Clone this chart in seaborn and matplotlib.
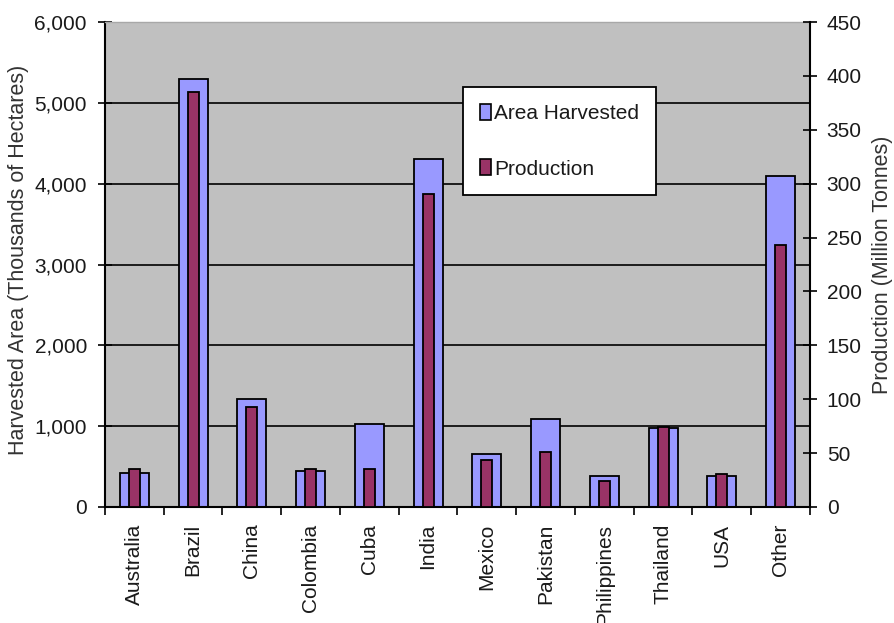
import matplotlib
matplotlib.use("Agg")
import matplotlib.pyplot as plt
import numpy as np
import pandas as pd
import seaborn as sns
from matplotlib.patches import Patch
from matplotlib.ticker import FuncFormatter, FixedLocator

# Sugarcane by country: harvested area and production
countries = ["Australia", "Brazil", "China", "Colombia", "Cuba", "India",
             "Mexico", "Pakistan", "Philippines", "Thailand", "USA", "Other"]
area_harvested = [420, 5300, 1330, 450, 1030, 4300, 650, 1090, 380, 980, 380, 4100]  # thousand ha
production = [35, 385, 93, 35, 35, 290, 44, 51, 24, 74, 31, 243]  # million tonnes

area_ticks = [0, 1000, 2000, 3000, 4000, 5000, 6000]
prod_ticks = [0, 50, 100, 150, 200, 250, 300, 350, 400, 450]

df = pd.DataFrame({"Country": countries, "Area": area_harvested, "Production": production})

sns.set_theme(style="white")
plt.rcParams["font.family"] = ["Liberation Sans", "DejaVu Sans"]

AREA_COLOR = "#9999FF"
PROD_COLOR = "#993366"
TEXT = "#1a1a1a"
FS = 15
LFS = 15.5

W, H = 895, 623
fig = plt.figure(figsize=(W / 100, H / 100), dpi=100)
ax = fig.add_axes([105 / W, 1 - 507 / H, 705 / W, 485 / H])
ax.set_facecolor("#C0C0C0")

sns.barplot(data=df, x="Country", y="Area", color=AREA_COLOR, saturation=1,
            width=0.49, edgecolor="black", linewidth=1.3, ax=ax, zorder=2)
ax.set_ylim(0, 6000)
ax.yaxis.set_major_locator(FixedLocator(area_ticks))
ax.yaxis.set_major_formatter(FuncFormatter(lambda v, p: f"{int(v):,}"))
ax.yaxis.grid(True, color="black", linewidth=1.2)
ax.set_axisbelow(True)

ax2 = ax.twinx()
sns.barplot(data=df, x="Country", y="Production", color=PROD_COLOR, saturation=1,
            width=0.19, edgecolor="black", linewidth=1.3, ax=ax2, zorder=3)
ax2.set_ylim(0, 450)
ax2.yaxis.set_major_locator(FixedLocator(prod_ticks))

ax.set_xlim(-0.5, len(countries) - 0.5)
ax.set_xticks(range(len(countries)))
ax.set_xticklabels(countries, rotation=90, fontsize=FS, color=TEXT)
ax.xaxis.set_minor_locator(FixedLocator(np.arange(-0.5, len(countries), 1.0)))
ax.tick_params(axis="x", which="major", length=0, pad=12)
ax.tick_params(axis="x", which="minor", direction="out", length=6, width=1.2,
               color="black", bottom=True)
ax.set_xlabel("")

ax.tick_params(axis="y", direction="inout", length=10, width=1.2, color="black",
               labelsize=FS, labelcolor=TEXT, pad=8, left=True)
ax2.tick_params(axis="y", direction="inout", length=10, width=1.2, color="black",
                labelsize=FS, labelcolor=TEXT, pad=7, right=True)

for s in ["left", "bottom"]:
    ax.spines[s].set_color("black")
    ax.spines[s].set_linewidth(1.5)
ax.spines["right"].set_visible(False)
ax.spines["top"].set_color("#a8a8a8")
ax.spines["top"].set_linewidth(1.0)
for s in ["left", "top", "bottom"]:
    ax2.spines[s].set_visible(False)
ax2.spines["right"].set_color("black")
ax2.spines["right"].set_linewidth(1.5)

ax.set_ylabel("Harvested Area (Thousands of Hectares)", fontsize=LFS, color="#333333")
ax.yaxis.set_label_coords(-0.108, 0.51)
ax2.set_ylabel("Production (Million Tonnes)", fontsize=LFS, color="#333333")
ax2.yaxis.set_label_coords(1.088, 0.5)

handles = [Patch(facecolor=AREA_COLOR, edgecolor="black", linewidth=1.2),
           Patch(facecolor=PROD_COLOR, edgecolor="black", linewidth=1.2)]
leg = ax2.legend(handles, ["Area Harvested", "Production"],
                 loc="upper left", bbox_to_anchor=(463 / W, 1 - 87 / H),
                 bbox_transform=fig.transFigure, fontsize=FS, frameon=True,
                 fancybox=False, shadow=False, framealpha=1, edgecolor="black",
                 handlelength=0.55, handleheight=0.8, handletextpad=0.15,
                 labelspacing=1.75, borderpad=0.8, borderaxespad=0)
leg.get_frame().set_linewidth(1.3)
for t in leg.get_texts():
    t.set_color(TEXT)

fig.savefig("out.png", dpi=100, facecolor="white")
